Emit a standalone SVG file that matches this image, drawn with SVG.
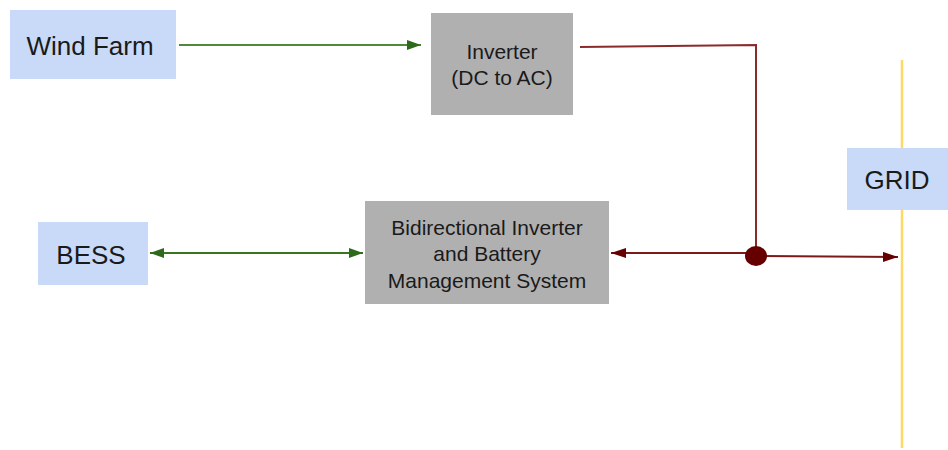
<svg xmlns="http://www.w3.org/2000/svg" width="948" height="450" viewBox="0 0 948 450">
<style>
.blue{fill:#c9daf8}
.gray{fill:#b0b0b0}
.t{font-family:"Liberation Sans",Arial,sans-serif;fill:#1a1a1a;text-anchor:middle}
.big{font-size:26px}
.small{font-size:21px}
.g{stroke:#38761d;stroke-width:2;fill:none}
.r{stroke:#7a1a1a;stroke-width:2;fill:none}
</style>
<defs>
<marker id="ag" viewBox="0 0 14 10" refX="14" refY="5" markerWidth="14" markerHeight="10" markerUnits="userSpaceOnUse" orient="auto-start-reverse"><path d="M0,0 L14,5 L0,10 z" fill="#2d6a1a"/></marker>
<marker id="ar" viewBox="0 0 15 10" refX="15" refY="5" markerWidth="15" markerHeight="10" markerUnits="userSpaceOnUse" orient="auto-start-reverse"><path d="M0,0 L15,5 L0,10 z" fill="#660000"/></marker>
</defs>
<rect width="948" height="450" fill="#ffffff"/>
<line x1="902" y1="60" x2="902" y2="448" stroke="#ffd966" stroke-width="2.5"/>
<g id="connectors">
<line class="g" x1="179" y1="45" x2="421" y2="45" style="stroke:#4f8a3c" marker-end="url(#ag)"/>
<line class="g" x1="150" y1="253" x2="363" y2="253" stroke-width="3" marker-start="url(#ag)" marker-end="url(#ag)"/>
<polyline class="r" points="580,47 756,45 756,256" style="stroke:#8a2a2a"/>
<line class="r" x1="756" y1="253" x2="611" y2="253" stroke-width="3" marker-end="url(#ar)"/>
<line class="r" x1="756" y1="256" x2="898" y2="257" marker-end="url(#ar)"/>
<ellipse cx="756" cy="256" rx="11" ry="10" fill="#660000"/>
</g>
<g id="wind-farm">
<rect class="blue" x="10" y="10" width="166" height="69"/>
<text class="t big" x="90" y="55">Wind Farm</text>
</g>
<g id="inverter">
<rect class="gray" x="431" y="13" width="142" height="102"/>
<text class="t small" x="502" y="59">Inverter</text>
<text class="t small" x="502" y="85">(DC to AC)</text>
</g>
<g id="bess">
<rect class="blue" x="38" y="222" width="110" height="63"/>
<text class="t big" x="91" y="264">BESS</text>
</g>
<g id="bidirectional-inverter">
<rect class="gray" x="365" y="201" width="244" height="103"/>
<text class="t small" x="487" y="235">Bidirectional Inverter</text>
<text class="t small" x="487" y="261">and Battery</text>
<text class="t small" x="487" y="288">Management System</text>
</g>
<g id="grid">
<rect class="blue" x="847" y="148" width="101" height="62"/>
<text class="t big" x="897" y="189">GRID</text>
</g>
</svg>
